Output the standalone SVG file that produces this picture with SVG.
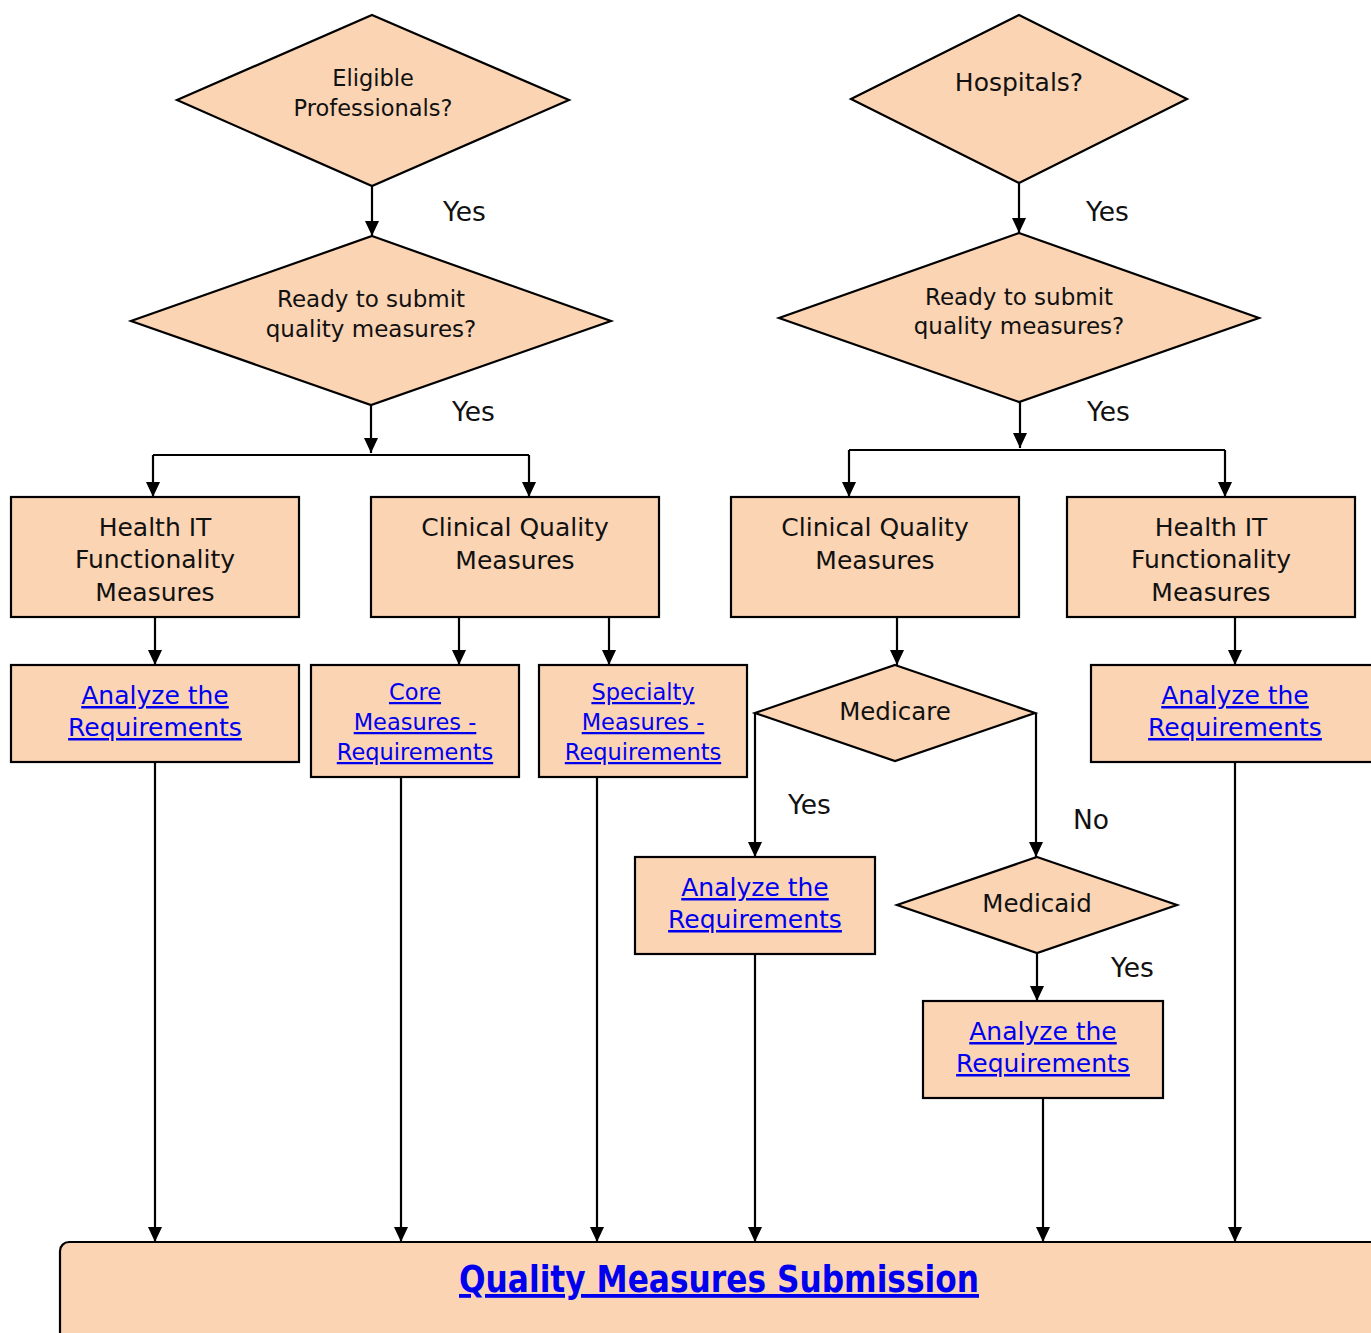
<svg xmlns="http://www.w3.org/2000/svg" width="1371" height="1333" viewBox="0 0 1371 1333">
  <defs>
    <marker id="arrow" markerUnits="userSpaceOnUse" markerWidth="15" markerHeight="16" viewBox="0 0 15 16" refX="15" refY="7" orient="auto">
      <path d="M0,0 L15,7 L0,14 Z" fill="#000"/>
    </marker>
    <style>
      .shape { fill: #FBD4B4; stroke: #000; stroke-width: 2.2; }
      .edge { fill: none; stroke: #000; stroke-width: 2.2; marker-end: url(#arrow); }
      .line { fill: none; stroke: #000; stroke-width: 2.2; }
      text { font-family: "DejaVu Sans", "Open Sans", sans-serif; text-anchor: middle; fill: #111; }
      .box { font-size: 25px; }
      .dia { font-size: 23px; }
      .lbl { font-size: 26.5px; text-anchor: start; }
      .link { fill: #0000EE; text-decoration: underline; }
      .title { font-size: 38px; font-weight: bold; fill: #0000EE; text-decoration: underline; }
    </style>
  </defs>

  <!-- connectors -->
  <g id="connectors">
    <path class="edge" d="M372,186 V236"/>
    <path class="edge" d="M371,405 V453"/>
    <path class="line" d="M153,455 H529"/>
    <path class="edge" d="M153,455 V497"/>
    <path class="edge" d="M529,455 V497"/>
    <path class="edge" d="M155,617 V665"/>
    <path class="edge" d="M459,617 V665"/>
    <path class="edge" d="M609,617 V665"/>

    <path class="edge" d="M1019,183 V233"/>
    <path class="edge" d="M1020,402 V448"/>
    <path class="line" d="M849,450 H1225"/>
    <path class="edge" d="M849,450 V497"/>
    <path class="edge" d="M1225,450 V497"/>
    <path class="edge" d="M897,617 V665"/>
    <path class="edge" d="M1235,617 V665"/>
    <path class="edge" d="M755,713 V857"/>
    <path class="edge" d="M1036,713 V857"/>
    <path class="edge" d="M1037,953 V1001"/>

    <path class="edge" d="M155,762 V1242"/>
    <path class="edge" d="M401,777 V1242"/>
    <path class="edge" d="M597,777 V1242"/>
    <path class="edge" d="M755,954 V1242"/>
    <path class="edge" d="M1043,1098 V1242"/>
    <path class="edge" d="M1235,762 V1242"/>
  </g>

  <!-- edge labels -->
  <g id="edge-labels">
    <text class="lbl" x="443" y="221">Yes</text>
    <text class="lbl" x="452" y="421">Yes</text>
    <text class="lbl" x="1086" y="221">Yes</text>
    <text class="lbl" x="1087" y="421">Yes</text>
    <text class="lbl" x="788" y="814">Yes</text>
    <text class="lbl" x="1073" y="829">No</text>
    <text class="lbl" x="1111" y="977">Yes</text>
  </g>

  <!-- left branch: eligible professionals -->
  <g id="eligible-professionals">
    <polygon class="shape" points="372,15 569,100 372,186 177,100"/>
    <text class="dia" style="font-size:22.5px" x="373" y="86">Eligible</text>
    <text class="dia" style="font-size:22.5px" x="373" y="116">Professionals?</text>
  </g>
  <g id="ep-ready">
    <polygon class="shape" points="372,236 611,321 371,405 131,321"/>
    <text class="dia" x="371" y="307">Ready to submit</text>
    <text class="dia" x="371" y="337">quality measures?</text>
  </g>
  <g id="ep-health-it">
    <rect class="shape" x="11" y="497" width="288" height="120"/>
    <text class="box" x="155" y="536">Health IT</text>
    <text class="box" x="155" y="568">Functionality</text>
    <text class="box" x="155" y="601">Measures</text>
  </g>
  <g id="ep-clinical">
    <rect class="shape" x="371" y="497" width="288" height="120"/>
    <text class="box" x="515" y="536">Clinical Quality</text>
    <text class="box" x="515" y="569">Measures</text>
  </g>
  <g id="ep-analyze">
    <rect class="shape" x="11" y="665" width="288" height="97"/>
    <text class="box link" x="155" y="704">Analyze the</text>
    <text class="box link" x="155" y="736">Requirements</text>
  </g>
  <g id="ep-core">
    <rect class="shape" x="311" y="665" width="208" height="112"/>
    <text class="link" font-size="22.5" x="415" y="700">Core</text>
    <text class="link" font-size="22.5" x="415" y="730">Measures -</text>
    <text class="link" font-size="22.5" x="415" y="760">Requirements</text>
  </g>
  <g id="ep-specialty">
    <rect class="shape" x="539" y="665" width="208" height="112"/>
    <text class="link" font-size="22.5" x="643" y="700">Specialty</text>
    <text class="link" font-size="22.5" x="643" y="730">Measures -</text>
    <text class="link" font-size="22.5" x="643" y="760">Requirements</text>
  </g>

  <!-- right branch: hospitals -->
  <g id="hospitals">
    <polygon class="shape" points="1019,15 1187,99 1019,183 851,99"/>
    <text class="dia" style="font-size:25px" x="1019" y="91">Hospitals?</text>
  </g>
  <g id="h-ready">
    <polygon class="shape" points="1019,233 1259,318 1019,402 779,318"/>
    <text class="dia" x="1019" y="305">Ready to submit</text>
    <text class="dia" x="1019" y="334">quality measures?</text>
  </g>
  <g id="h-clinical">
    <rect class="shape" x="731" y="497" width="288" height="120"/>
    <text class="box" x="875" y="536">Clinical Quality</text>
    <text class="box" x="875" y="569">Measures</text>
  </g>
  <g id="h-health-it">
    <rect class="shape" x="1067" y="497" width="288" height="120"/>
    <text class="box" x="1211" y="536">Health IT</text>
    <text class="box" x="1211" y="568">Functionality</text>
    <text class="box" x="1211" y="601">Measures</text>
  </g>
  <g id="h-analyze">
    <rect class="shape" x="1091" y="665" width="290" height="97"/>
    <text class="box link" x="1235" y="704">Analyze the</text>
    <text class="box link" x="1235" y="736">Requirements</text>
  </g>
  <g id="medicare">
    <polygon class="shape" points="895,665 1035,713 895,761 755,713"/>
    <text class="dia" style="font-size:24.5px" x="895" y="720">Medicare</text>
  </g>
  <g id="medicare-analyze">
    <rect class="shape" x="635" y="857" width="240" height="97"/>
    <text class="box link" x="755" y="896">Analyze the</text>
    <text class="box link" x="755" y="928">Requirements</text>
  </g>
  <g id="medicaid">
    <polygon class="shape" points="1037,857 1177,905 1037,953 897,905"/>
    <text class="dia" style="font-size:24.5px" x="1037" y="912">Medicaid</text>
  </g>
  <g id="medicaid-analyze">
    <rect class="shape" x="923" y="1001" width="240" height="97"/>
    <text class="box link" x="1043" y="1040">Analyze the</text>
    <text class="box link" x="1043" y="1072">Requirements</text>
  </g>

  <!-- submission -->
  <g id="submission">
    <rect class="shape" x="60" y="1242" width="1340" height="120" rx="9" ry="9"/>
    <text class="title" x="719" y="1292" textLength="520" lengthAdjust="spacingAndGlyphs">Quality Measures Submission</text>
  </g>
</svg>
